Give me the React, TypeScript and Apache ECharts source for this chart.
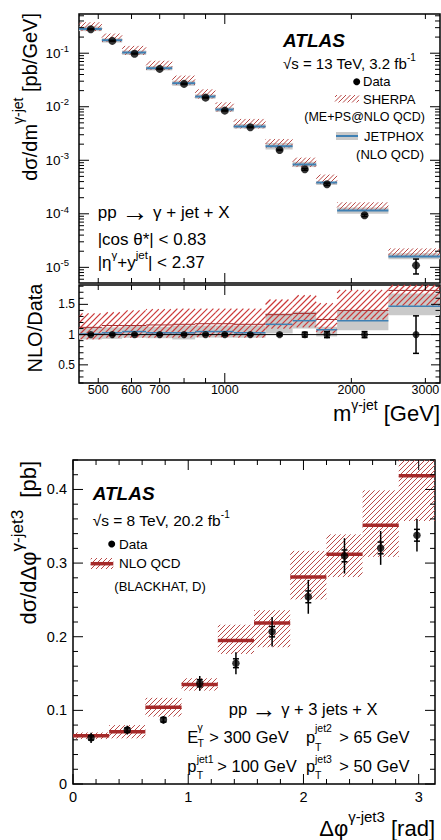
import React, { useEffect, useRef } from 'react';
import * as echarts from 'echarts';

const FONT = '"Liberation Sans", Arial, Helvetica, sans-serif';
const GRAY = '#c9c9c9';
const BLUE = '#3f80b3';
const HATCH = '#b94a48';
const HATCH_RATIO = '#cc3a3a';
const DARKRED = '#a33030';
const NLO_RED = '#a52a2a';

// ---------------- Top panel: 13 TeV, dσ/dm ----------------
const massEdges = [450, 510, 570, 650, 750, 850, 950, 1050, 1250, 1450, 1650, 1850, 2450, 3250];
const massCenters = [480, 540, 610, 700, 800, 900, 1000, 1150, 1350, 1550, 1750, 2150, 2850];
const dataXsec = [0.281, 0.17, 0.098, 0.0509, 0.0267, 0.0148, 0.00845, 0.00414, 0.00156, 0.000679, 0.000356, 0.0000937, 0.0000109];
const dataRelErr = [0.01, 0.01, 0.01, 0.01, 0.012, 0.012, 0.015, 0.015, 0.02, 0.04, 0.05, 0.05, 0.31];
const jetphoxXsec = [0.284, 0.175, 0.103, 0.0524, 0.0275, 0.0155, 0.00887, 0.00426, 0.00183, 0.000835, 0.000384, 0.000115, 0.000016];
const jetphoxXsecLo = [0.259, 0.158, 0.093, 0.0478, 0.0246, 0.0141, 0.008, 0.00393, 0.00159, 0.000747, 0.000345, 0.0001, 0.0000142];
const jetphoxXsecHi = [0.315, 0.19, 0.112, 0.0575, 0.0307, 0.017, 0.0097, 0.00476, 0.00211, 0.000937, 0.000399, 0.000131, 0.0000183];
const sherpaXsecLo = [0.259, 0.162, 0.093, 0.0484, 0.0254, 0.0142, 0.0081, 0.00393, 0.00172, 0.000747, 0.000363, 0.000117, 0.0000158];
const sherpaXsecHi = [0.379, 0.233, 0.137, 0.0723, 0.0382, 0.0212, 0.0121, 0.00592, 0.0025, 0.00112, 0.000541, 0.000164, 0.0000226];

// ---------------- Ratio panel: NLO/Data ----------------
const ratioData = [1, 1, 1, 1, 1, 1, 1, 1, 1, 1, 1, 1, 1];
const jetphoxRatio = [1.01, 1.03, 1.05, 1.03, 1.03, 1.05, 1.05, 1.03, 1.17, 1.23, 1.08, 1.23, 1.47];
const jetphoxRatioLo = [0.92, 0.93, 0.95, 0.94, 0.92, 0.95, 0.95, 0.95, 1.02, 1.1, 0.97, 1.07, 1.32];
const jetphoxRatioHi = [1.12, 1.12, 1.14, 1.13, 1.15, 1.15, 1.15, 1.15, 1.35, 1.38, 1.13, 1.4, 1.68];
const sherpaRatio = [1.12, 1.15, 1.15, 1.16, 1.17, 1.18, 1.18, 1.17, 1.33, 1.35, 1.25, 1.4, 1.73];
const sherpaRatioLo = [0.92, 0.95, 0.95, 0.95, 0.95, 0.96, 0.96, 0.95, 1.1, 1.12, 1.02, 1.25, 1.48];
const sherpaRatioHi = [1.35, 1.37, 1.4, 1.42, 1.43, 1.43, 1.43, 1.43, 1.58, 1.65, 1.52, 1.74, 2.07];

// ---------------- Bottom panel: 8 TeV, dσ/dΔφ ----------------
const dphiEdges = [0, 0.314, 0.628, 0.942, 1.257, 1.571, 1.885, 2.199, 2.513, 2.827, 3.142];
const dphiCenters = [0.157, 0.471, 0.785, 1.1, 1.414, 1.728, 2.042, 2.356, 2.67, 2.985];
const dphiData = [0.0627, 0.0732, 0.0871, 0.1368, 0.164, 0.2068, 0.2542, 0.3098, 0.3206, 0.3378];
const dphiTotErr = [0.007, 0.006, 0.005, 0.01, 0.015, 0.02, 0.023, 0.024, 0.023, 0.022];
const dphiStatErr = [0.003, 0.003, 0.003, 0.005, 0.006, 0.007, 0.008, 0.008, 0.008, 0.008];
const nloValue = [0.0654, 0.0709, 0.1043, 0.135, 0.195, 0.2186, 0.281, 0.312, 0.3513, 0.4187];
const nloLo = [0.061, 0.062, 0.0916, 0.1268, 0.1766, 0.1857, 0.2507, 0.281, 0.3084, 0.3572];
const nloHi = [0.07, 0.08, 0.117, 0.1436, 0.2163, 0.236, 0.3166, 0.339, 0.3988, 0.48];

// ---------------- Tick labels ----------------
const massTicks = [500, 600, 700, 800, 900, 1000, 2000, 3000];
const massTickLabels = [500, 600, 700, 1000, 2000, 3000];
const xsecDecades = [-5, -4, -3, -2, -1];
const ratioTickLabels = [0.5, 1, 1.5];
const dphiTickLabels = [0, 1, 2, 3];
const dsigTickLabels = [0, 0.1, 0.2, 0.3, 0.4];

const supRich = (F: number, s: number, raise: number, arrow = 0) => ({
  n: { fontSize: F, fontFamily: FONT, lineHeight: Math.max(2 * raise + s, 1), fill: '#000', color: '#000' },
  u: { fontSize: s, fontFamily: FONT, lineHeight: s, verticalAlign: 'top', fill: '#000', color: '#000' },
  d: { fontSize: s, fontFamily: FONT, lineHeight: s, verticalAlign: 'bottom', fill: '#000', color: '#000' },
  a: { fontSize: arrow || F, fontFamily: FONT, lineHeight: Math.max(2 * raise + s, 1), fill: '#000', color: '#000' },
});

function clipBox(cs: any, xa: number, xb: number, ya: number, yb: number) {
  const x0 = Math.max(Math.min(xa, xb), cs.x);
  const x1 = Math.min(Math.max(xa, xb), cs.x + cs.width);
  const y0 = Math.max(Math.min(ya, yb), cs.y);
  const y1 = Math.min(Math.max(ya, yb), cs.y + cs.height);
  if (x1 <= x0 || y1 <= y0) return null;
  return [x0, x1, y0, y1];
}

function hatchLines(x0: number, x1: number, y0: number, y1: number, spacing: number, color: string, lw: number) {
  const out: any[] = [];
  const start = Math.ceil((x0 + y0) / spacing) * spacing;
  for (let c = start; c <= x1 + y1; c += spacing) {
    const xa = Math.max(x0, c - y1);
    const xb = Math.min(x1, c - y0);
    if (xb - xa < 0.3) continue;
    out.push({ type: 'line', shape: { x1: xa, y1: c - xa, x2: xb, y2: c - xb }, style: { stroke: color, lineWidth: lw, fill: null, opacity: 1 } });
  }
  return out;
}

function bandSeries(axis: number, edges: number[], lo: number[], hi: number[], kind: string, color: string, z: number, spacing = 5, lw = 1) {
  return {
    type: 'custom', xAxisIndex: axis, yAxisIndex: axis, silent: true, z,
    encode: { x: [0, 1], y: [2, 3] },
    data: lo.map((_, i) => [edges[i], edges[i + 1], lo[i], hi[i]]),
    renderItem: (params: any, api: any) => {
      const a = api.coord([api.value(0), api.value(2)]);
      const b = api.coord([api.value(1), api.value(3)]);
      const box = clipBox(params.coordSys, a[0], b[0], a[1], b[1]);
      if (!box) return { type: 'group', children: [] };
      const [x0, x1, y0, y1] = box;
      if (kind === 'fill') return { type: 'rect', shape: { x: x0, y: y0, width: x1 - x0, height: y1 - y0 }, style: { fill: color } };
      return { type: 'group', children: hatchLines(x0, x1, y0, y1, spacing, color, lw) };
    },
  };
}

function levelSeries(axis: number, edges: number[], vals: number[], color: string, width: number, z: number) {
  return {
    type: 'custom', xAxisIndex: axis, yAxisIndex: axis, silent: true, z,
    encode: { x: [0, 1], y: 2 },
    data: vals.map((v, i) => [edges[i], edges[i + 1], v]),
    renderItem: (params: any, api: any) => {
      const a = api.coord([api.value(0), api.value(2)]);
      const b = api.coord([api.value(1), api.value(2)]);
      return { type: 'line', shape: { x1: a[0], y1: a[1], x2: b[0], y2: b[1] }, style: { stroke: color, lineWidth: width } };
    },
  };
}

function errSeries(axis: number, xs: number[], lo: number[], hi: number[], cap: number, width: number, z: number) {
  return {
    type: 'custom', xAxisIndex: axis, yAxisIndex: axis, silent: true, z,
    encode: { x: 0, y: [1, 2] },
    data: xs.map((x, i) => [x, lo[i], hi[i]]),
    renderItem: (params: any, api: any) => {
      const a = api.coord([api.value(0), api.value(1)]);
      const b = api.coord([api.value(0), api.value(2)]);
      const st = { stroke: '#000', lineWidth: width };
      const ch: any[] = [{ type: 'line', shape: { x1: a[0], y1: a[1], x2: b[0], y2: b[1] }, style: st }];
      if (cap > 0) {
        ch.push({ type: 'line', shape: { x1: a[0] - cap, y1: a[1], x2: a[0] + cap, y2: a[1] }, style: st });
        ch.push({ type: 'line', shape: { x1: b[0] - cap, y1: b[1], x2: b[0] + cap, y2: b[1] }, style: st });
      }
      return { type: 'group', children: ch };
    },
  };
}

function scatterSeries(axis: number, xs: number[], ys: number[], size: number) {
  return {
    type: 'scatter', xAxisIndex: axis, yAxisIndex: axis, silent: true, z: 10,
    symbol: 'circle', symbolSize: size, itemStyle: { color: '#000' },
    data: xs.map((x, i) => [x, ys[i]]),
  };
}

function tickSeries(axis: number, dir: string, ticks: [number, boolean][], anchor: number, majorLen: number, minorLen: number) {
  return {
    type: 'custom', xAxisIndex: axis, yAxisIndex: axis, silent: true, z: 20,
    encode: { x: 0, y: 1 },
    data: ticks.map(([v, m]) => (dir === 'x' ? [v, anchor, m ? 1 : 0] : [anchor, v, m ? 1 : 0])),
    renderItem: (params: any, api: any) => {
      const cs = params.coordSys;
      const len = api.value(2) ? majorLen : minorLen;
      const p = api.coord([api.value(0), api.value(1)]);
      const st = { stroke: '#000', lineWidth: 1 };
      if (dir === 'x') {
        const x = p[0];
        const yb = cs.y + cs.height;
        const yt = cs.y;
        return {
          type: 'group', children: [
            { type: 'line', shape: { x1: x, y1: yb, x2: x, y2: yb - len }, style: st },
            { type: 'line', shape: { x1: x, y1: yt, x2: x, y2: yt + len }, style: st },
          ],
        };
      }
      const y = p[1];
      const xl = cs.x;
      const xr = cs.x + cs.width;
      return {
        type: 'group', children: [
          { type: 'line', shape: { x1: xl, y1: y, x2: xl + len, y2: y }, style: st },
          { type: 'line', shape: { x1: xr, y1: y, x2: xr - len, y2: y }, style: st },
        ],
      };
    },
  };
}

function labelSeries(axis: number, dir: string, values: number[], texts: string[], anchor: number, offset: number, fontSize: number, rich?: any) {
  return {
    type: 'custom', xAxisIndex: axis, yAxisIndex: axis, silent: true, z: 20,
    encode: { x: 0, y: 1 },
    data: values.map((v) => (dir === 'x' ? [v, anchor] : [anchor, v])),
    renderItem: (params: any, api: any) => {
      const cs = params.coordSys;
      const p = api.coord([api.value(0), api.value(1)]);
      const t = texts[params.dataIndex];
      const style: any = {
        text: t, fill: '#000', fontSize, fontFamily: FONT,
        align: dir === 'x' ? 'center' : 'right', textAlign: dir === 'x' ? 'center' : 'right',
        verticalAlign: 'middle', textVerticalAlign: 'middle',
      };
      if (rich) style.rich = rich;
      if (dir === 'x') return { type: 'text', x: p[0], y: cs.y + cs.height + offset, style };
      return { type: 'text', x: cs.x - offset, y: p[1], style };
    },
  };
}

function txt(x: number, y: number, text: string, o: any = {}) {
  const style: any = {
    text, fill: '#000', fontFamily: FONT, fontSize: o.size ?? 14,
    fontWeight: o.weight ?? 'normal', fontStyle: o.style ?? 'normal',
    align: o.align ?? 'left', textAlign: o.align ?? 'left',
    verticalAlign: 'middle', textVerticalAlign: 'middle',
  };
  if (o.rich) style.rich = o.rich;
  return { type: 'text', x, y, rotation: o.rot ?? 0, z: 100, silent: true, style };
}

function buildOption() {
  const logTicks: [number, boolean][] = [];
  for (let d = -6; d <= 0; d++) {
    for (let m = 1; m <= 9; m++) {
      const v = m * Math.pow(10, d);
      if (v > 5.1e-6 && v < 0.54) logTicks.push([v, m === 1]);
    }
  }
  const ratioTicks: [number, boolean][] = [];
  for (let k = 2; k <= 18; k++) ratioTicks.push([k / 10, k % 5 === 0]);
  const dphiTicks: [number, boolean][] = [];
  for (let k = 0; k <= 15; k++) dphiTicks.push([k * 0.2, k % 5 === 0]);
  const dsigTicks: [number, boolean][] = [];
  for (let k = 0; k <= 22; k++) dsigTicks.push([k * 0.02, k % 5 === 0]);
  const massMajor: [number, boolean][] = massTicks.map((v) => [v, v === 1000]);

  const topErrLo = dataXsec.map((v, i) => v * (1 - dataRelErr[i]));
  const topErrHi = dataXsec.map((v, i) => v * (1 + dataRelErr[i]));
  const ratioErrLo = ratioData.map((v, i) => v - dataRelErr[i]);
  const ratioErrHi = ratioData.map((v, i) => v + dataRelErr[i]);
  const totLo = dphiData.map((v, i) => v - dphiTotErr[i]);
  const totHi = dphiData.map((v, i) => v + dphiTotErr[i]);
  const statLo = dphiData.map((v, i) => v - dphiStatErr[i]);
  const statHi = dphiData.map((v, i) => v + dphiStatErr[i]);

  const gridBase = { show: true, borderColor: '#000', borderWidth: 1.5, backgroundColor: 'transparent', containLabel: false };

  const F2 = 16.5;
  const S2 = 10.5;

  return {
    animation: false,
    backgroundColor: '#fff',
    textStyle: { fontFamily: FONT },
    grid: [
      { ...gridBase, left: 79, top: 14, width: 361, height: 269 },
      { ...gridBase, left: 79, top: 285, width: 361, height: 98 },
      { ...gridBase, left: 73, top: 460, width: 362, height: 324 },
    ],
    xAxis: [
      { gridIndex: 0, type: 'log', min: 450, max: 3250, show: false },
      { gridIndex: 1, type: 'log', min: 450, max: 3250, show: false },
      { gridIndex: 2, type: 'value', min: 0, max: Math.PI, show: false },
    ],
    yAxis: [
      { gridIndex: 0, type: 'log', min: 5.1e-6, max: 0.54, show: false },
      { gridIndex: 1, type: 'value', min: 0.2, max: 1.82, show: false },
      { gridIndex: 2, type: 'value', min: 0, max: 0.44, show: false },
    ],
    series: [
      // top panel
      bandSeries(0, massEdges, jetphoxXsecLo, jetphoxXsecHi, 'fill', GRAY, 2),
      bandSeries(0, massEdges, sherpaXsecLo, sherpaXsecHi, 'hatch', HATCH, 3, 4.5),
      levelSeries(0, massEdges, jetphoxXsec, BLUE, 2, 5),
      errSeries(0, massCenters, topErrLo, topErrHi, 3, 1.5, 9),
      scatterSeries(0, massCenters, dataXsec, 8),
      // ratio panel
      bandSeries(1, massEdges, jetphoxRatioLo, jetphoxRatioHi, 'fill', GRAY, 2),
      bandSeries(1, massEdges, sherpaRatioLo, sherpaRatioHi, 'hatch', HATCH_RATIO, 3, 6, 1.2),
      levelSeries(1, massEdges, sherpaRatio, DARKRED, 1, 4),
      levelSeries(1, massEdges, jetphoxRatio, BLUE, 1.5, 5),
      levelSeries(1, [450, 3250], [1], '#000', 1, 6),
      errSeries(1, massCenters, ratioErrLo, ratioErrHi, 3, 1.5, 9),
      scatterSeries(1, massCenters, ratioData, 7),
      // bottom panel
      bandSeries(2, dphiEdges, nloLo, nloHi, 'hatch', HATCH, 3, 5),
      levelSeries(2, dphiEdges, nloValue, NLO_RED, 3.5, 5),
      errSeries(2, dphiCenters, totLo, totHi, 0, 1.5, 9),
      errSeries(2, dphiCenters, statLo, statHi, 3, 1.5, 9),
      scatterSeries(2, dphiCenters, dphiData, 7.5),
      // ticks
      tickSeries(0, 'x', massMajor, 0.001, 10, 5),
      tickSeries(0, 'y', logTicks, 1000, 10, 5),
      tickSeries(1, 'x', massMajor, 1, 10, 5),
      tickSeries(1, 'y', ratioTicks, 1000, 9, 4.5),
      tickSeries(2, 'x', dphiTicks, 0.2, 10, 5),
      tickSeries(2, 'y', dsigTicks, 0.2, 10, 5),
      // tick labels
      labelSeries(0, 'y', xsecDecades.map((e) => Math.pow(10, e)), xsecDecades.map((e) => `{n|10}{u|${e}}`), 1000, 10, 13.5, supRich(13.5, 9.5, 5)),
      labelSeries(1, 'x', massTickLabels, massTickLabels.map(String), 1, 7, 12.5),
      labelSeries(1, 'y', ratioTickLabels, ratioTickLabels.map(String), 1000, 4, 12),
      labelSeries(2, 'x', dphiTickLabels, dphiTickLabels.map(String), 0.2, 12.5, 14.5),
      labelSeries(2, 'y', dsigTickLabels, dsigTickLabels.map(String), 0.2, 6, 14.5),
    ],
    graphic: [
      // top panel annotations
      txt(283, 40.7, 'ATLAS', { size: 19, weight: 'bold', style: 'italic' }),
      txt(283, 63.3, '{n|√s = 13 TeV, 3.2 fb}{u|-1}', { rich: supRich(15, 10, 6) }),
      { type: 'circle', shape: { cx: 356.7, cy: 81.7, r: 3.5 }, style: { fill: '#000' }, z: 100 },
      txt(363, 81.7, 'Data', { size: 13 }),
      { type: 'group', z: 100, children: hatchLines(335, 359, 95, 102.5, 4.5, HATCH, 1) },
      txt(363, 99, 'SHERPA', { size: 13 }),
      txt(425, 117.3, '(ME+PS@NLO QCD)', { size: 12.5, align: 'right' }),
      { type: 'rect', shape: { x: 336, y: 132, width: 22, height: 8 }, style: { fill: GRAY }, z: 100 },
      { type: 'line', shape: { x1: 336, y1: 136, x2: 358, y2: 136 }, style: { stroke: BLUE, lineWidth: 2 }, z: 101 },
      txt(364, 136, 'JETPHOX', { size: 13 }),
      txt(424, 154.3, '(NLO QCD)', { size: 13, align: 'right' }),
      txt(97.7, 212.3, '{n|pp }{a|→}{n| γ + jet + X}', { rich: supRich(17, 11, 3, 27) }),
      txt(97.7, 239.3, '|cos θ*| < 0.83', { size: 17 }),
      txt(97.7, 262.3, '{n||η}{u|γ}{n|+y}{u|jet}{n|| < 2.37}', { rich: supRich(17, 11.5, 8) }),
      // axis titles (top + ratio)
      txt(30, 13, '{n|dσ/dm}{u|γ-jet}{n| [pb/GeV]}', { rich: supRich(20, 14, 12), align: 'right', rot: Math.PI / 2 }),
      txt(35, 328, 'NLO/Data', { size: 20, align: 'center', rot: Math.PI / 2 }),
      txt(440, 413, '{n|m}{u|γ-jet}{n| [GeV]}', { rich: supRich(22, 14, 8.5), align: 'right' }),
      // bottom panel annotations
      txt(92.7, 493, 'ATLAS', { size: 19, weight: 'bold', style: 'italic' }),
      txt(92.7, 520, '{n|√s = 8 TeV, 20.2 fb}{u|-1}', { rich: supRich(15.5, 10, 6) }),
      { type: 'circle', shape: { cx: 111.7, cy: 544, r: 3.5 }, style: { fill: '#000' }, z: 100 },
      txt(119, 544, 'Data', { size: 13.5 }),
      { type: 'group', z: 100, children: hatchLines(90.7, 113.3, 558, 569, 5, HATCH, 1) },
      { type: 'line', shape: { x1: 90.7, y1: 563.7, x2: 113.3, y2: 563.7 }, style: { stroke: NLO_RED, lineWidth: 3.5 }, z: 101 },
      txt(119, 563.7, 'NLO QCD', { size: 13.5 }),
      txt(114.3, 586, '(BLACKHAT, D)', { size: 13 }),
      txt(228.7, 709, '{n|pp }{a|→}{n| γ + 3 jets + X}', { rich: supRich(F2, 11, 3, 25) }),
      txt(187.3, 737.3, 'E', { size: F2 }),
      txt(197.5, 727, 'γ', { size: S2 }),
      txt(197.5, 743, 'T', { size: S2 }),
      txt(209.3, 737.3, '> 300 GeV', { size: F2 }),
      txt(306, 737.3, 'p', { size: F2 }),
      txt(315, 728, 'jet2', { size: S2 }),
      txt(315, 747, 'T', { size: S2 }),
      txt(339.3, 737.3, '> 65 GeV', { size: F2 }),
      txt(187.3, 766, 'p', { size: F2 }),
      txt(196.7, 759, 'jet1', { size: S2 }),
      txt(196.7, 775, 'T', { size: S2 }),
      txt(217.3, 766, '> 100 GeV', { size: F2 }),
      txt(306, 766, 'p', { size: F2 }),
      txt(315, 759, 'jet3', { size: S2 }),
      txt(315, 775, 'T', { size: S2 }),
      txt(339.3, 766, '> 50 GeV', { size: F2 }),
      // bottom axis titles
      txt(28, 461, '{n|dσ/dΔφ}{u|γ-jet3}{n|  [pb]}', { rich: supRich(22, 17, 11), align: 'right', rot: Math.PI / 2 }),
      txt(435, 828, '{n|Δφ}{u|γ-jet3}{n| [rad]}', { rich: supRich(22, 15, 12), align: 'right' }),
    ],
  };
}

export default function App() {
  const ref = useRef<HTMLDivElement>(null);
  useEffect(() => {
    if (!ref.current) return;
    const chart = echarts.init(ref.current, undefined, { renderer: 'svg', width: 441, height: 840 });
    chart.setOption(buildOption() as any);
    return () => chart.dispose();
  }, []);
  return <div ref={ref} style={{ position: 'absolute', left: 0, top: 0, width: 441, height: 840, background: '#fff' }} />;
}
